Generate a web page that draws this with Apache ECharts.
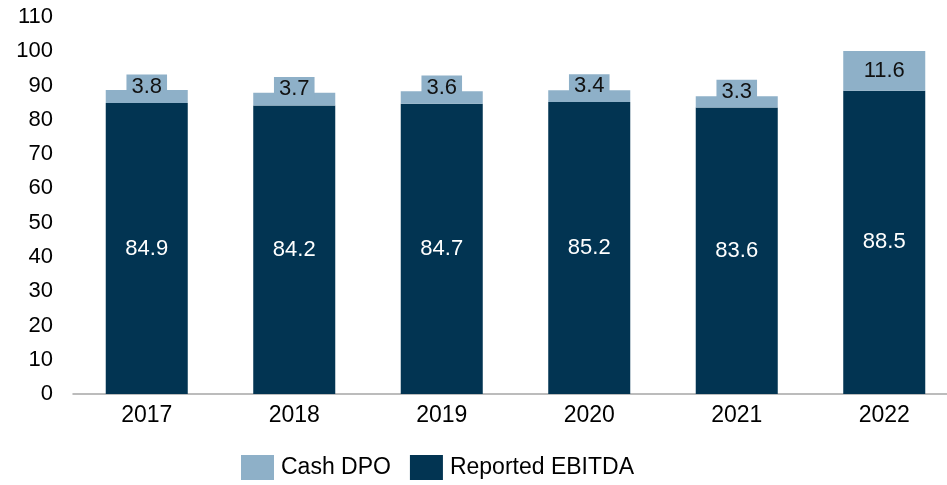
<!DOCTYPE html>
<html><head><meta charset="utf-8">
<script src="https://cdn.jsdelivr.net/npm/echarts@6/dist/echarts.min.js"></script>
<style>html,body{margin:0;padding:0;background:#fff}#c{width:947px;height:485px}</style>
</head><body><div id="c"></div>
<script>
var categories = ['2017','2018','2019','2020','2021','2022'];
var reportedEbitda = [84.9, 84.2, 84.7, 85.2, 83.6, 88.5];
var cashDpo = [3.8, 3.7, 3.6, 3.4, 3.3, 11.6];
var yTicks = [0,10,20,30,40,50,60,70,80,90,100,110];

var font = 'Liberation Sans, Arial, sans-serif';
var dpoData = cashDpo.map(function(v){
  return v < 5 ? {value: v, label: {offset: [0, -10]}} : v;
});
var chart = echarts.init(document.getElementById('c'));
chart.setOption({
  animation: false,
  grid: {left: 73, right: -11, top: 17, bottom: 91, outerBoundsMode: 'none', containLabel: false},
  legend: {
    bottom: 0, left: 236,
    icon: 'rect',
    itemWidth: 33, itemHeight: 25, itemGap: 19,
    textStyle: {fontFamily: font, fontSize: 23, color: '#000', padding: [0, 0, 0, 2]},
    data: ['Cash DPO', 'Reported EBITDA']
  },
  xAxis: {
    type: 'category', data: categories,
    axisLine: {lineStyle: {color: '#a6a6a6', width: 1.5}},
    axisTick: {show: false},
    axisLabel: {fontFamily: font, fontSize: 23, color: '#000', margin: 10}
  },
  yAxis: {
    type: 'value', min: yTicks[0], max: yTicks[yTicks.length-1], interval: 10,
    splitLine: {show: false},
    axisLine: {show: false}, axisTick: {show: false},
    axisLabel: {fontFamily: font, fontSize: 22, color: '#000', margin: 20}
  },
  series: [
    {
      name: 'Reported EBITDA', type: 'bar', stack: 'a', data: reportedEbitda,
      barWidth: '55.6%',
      itemStyle: {color: '#023452'},
      label: {show: true, position: 'inside', color: '#fff', fontFamily: font, fontSize: 22,
        formatter: function(p){return p.value.toFixed(1);}}
    },
    {
      name: 'Cash DPO', type: 'bar', stack: 'a', data: dpoData,
      itemStyle: {color: '#8EB0C8'},
      label: {show: true, position: 'inside', color: '#111', fontFamily: font, fontSize: 22,
        backgroundColor: '#8EB0C8', padding: [1, 5, 1, 5],
        formatter: function(p){return p.value.toFixed(1);}}
    }
  ]
});
</script></body></html>
